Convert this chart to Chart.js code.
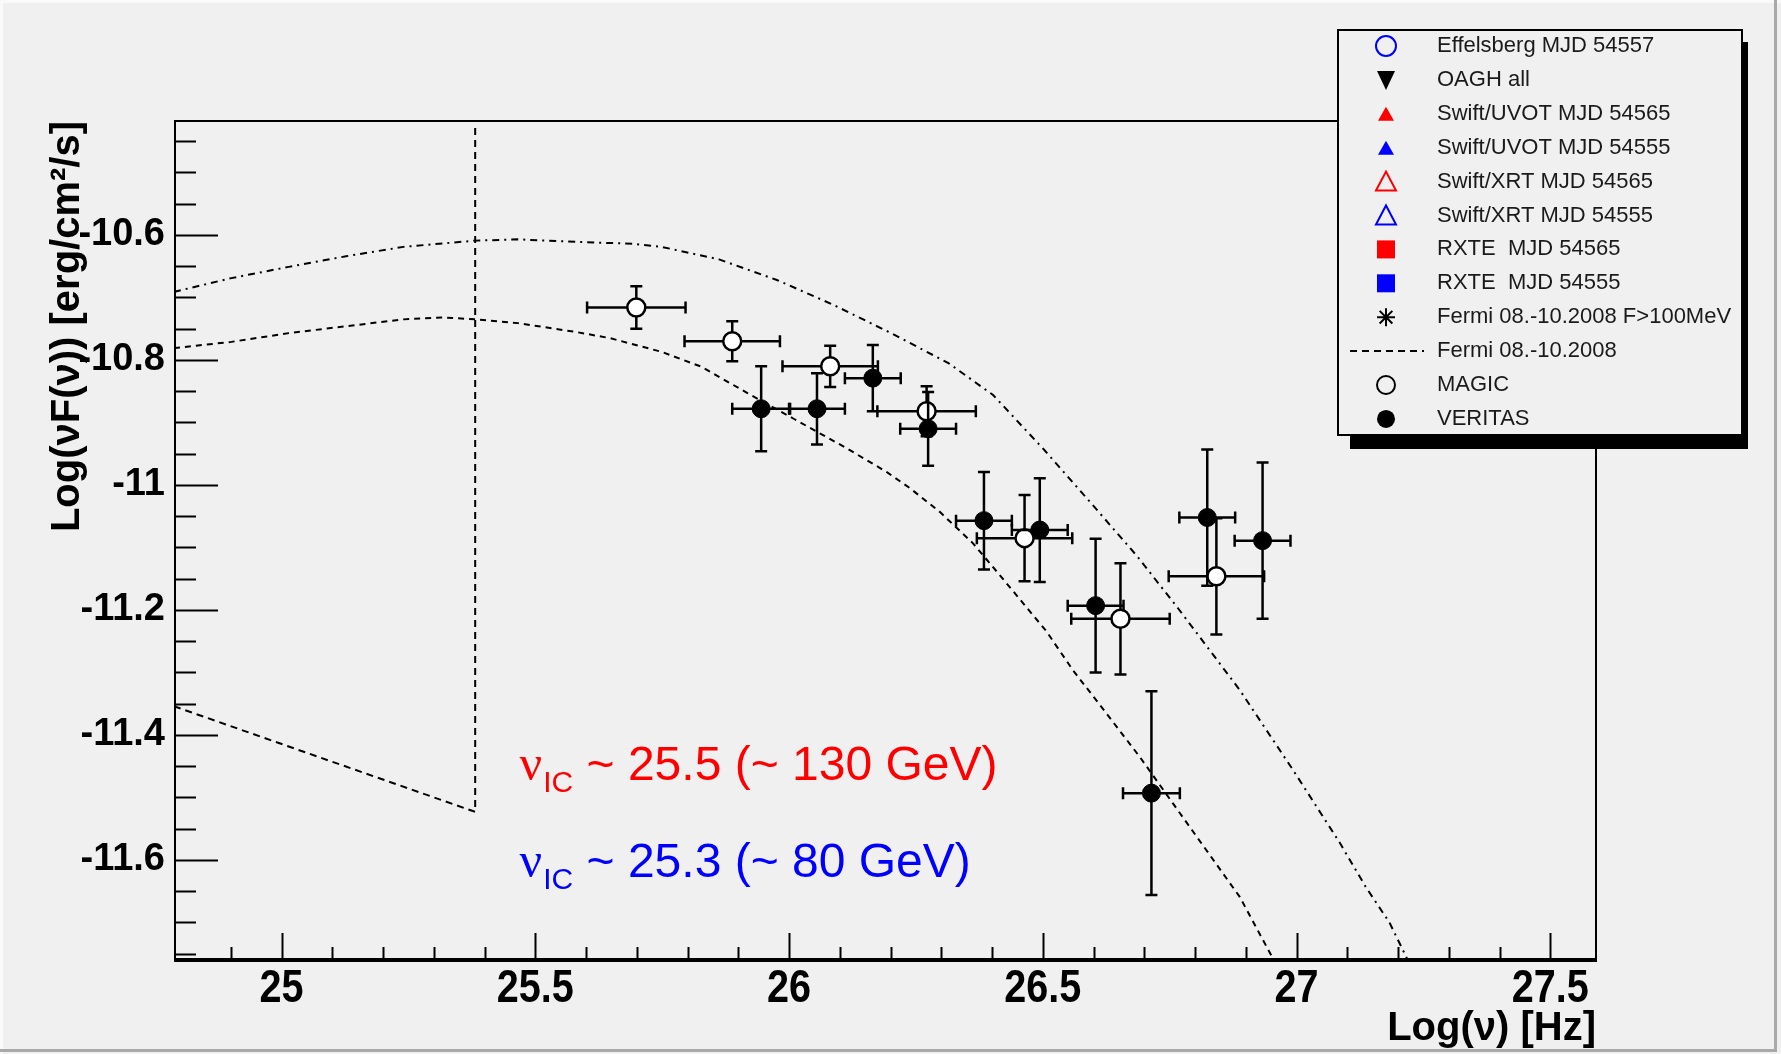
<!DOCTYPE html>
<html>
<head>
<meta charset="utf-8">
<script src="https://cdn.jsdelivr.net/npm/chart.js@4.4.1/dist/chart.umd.min.js"></script>
<style>
  body { margin: 0; background: #f0f0f0; }
  canvas { display: block; }
</style>
</head>
<body>
<canvas id="sedChart" width="1781" height="1054"></canvas>
<script>
// MAGIC (open circles)
const magicX    = [25.699, 25.888, 26.081, 26.271, 26.464, 26.653, 26.842];
const magicY    = [-10.716, -10.770, -10.810, -10.882, -11.085, -11.214, -11.146];
const magicXErr = [0.097, 0.094, 0.094, 0.097, 0.094, 0.097, 0.094];
const magicYErr = [0.034, 0.032, 0.033, 0.040, 0.069, 0.089, 0.093];

// VERITAS (filled circles)
const veritasX    = [25.945, 26.055, 26.165, 26.274, 26.384, 26.494, 26.604, 26.714, 26.824, 26.933];
const veritasY    = [-10.878, -10.878, -10.829, -10.910, -11.057, -11.072, -11.193, -11.493, -11.052, -11.089];
const veritasXErr = [0.057, 0.055, 0.055, 0.055, 0.055, 0.055, 0.055, 0.056, 0.055, 0.055];
const veritasYErr = [0.068, 0.057, 0.053, 0.059, 0.078, 0.083, 0.107, 0.163, 0.109, 0.125];

// model curves
const lowerX = [24.788, 24.901, 25.014, 25.127, 25.240, 25.319, 25.3815, 25.466, 25.579, 25.647, 25.749, 25.828,
                25.918, 26.009, 26.113, 26.192, 26.238, 26.297, 26.362, 26.415, 26.461, 26.507, 26.559, 26.625,
                26.691, 26.756, 26.822, 26.888, 26.955];
const lowerY = [-10.781, -10.771, -10.757, -10.746, -10.735, -10.732, -10.735, -10.741, -10.755, -10.765, -10.787, -10.811,
                -10.853, -10.894, -10.941, -10.979, -11.005, -11.043, -11.093, -11.144, -11.189, -11.234, -11.296, -11.365,
                -11.435, -11.509, -11.584, -11.659, -11.760];
const upperX = [24.788, 24.901, 25.014, 25.127, 25.240, 25.3815, 25.466, 25.579, 25.692, 25.749, 25.862, 25.976,
                26.088, 26.201, 26.314, 26.402, 26.503, 26.595, 26.687, 26.769, 26.888, 26.993, 27.084, 27.137,
                27.183, 27.219];
const upperY = [-10.691, -10.669, -10.651, -10.634, -10.619, -10.609, -10.607, -10.611, -10.614, -10.619, -10.639, -10.672,
                -10.712, -10.757, -10.805, -10.856, -10.944, -11.029, -11.115, -11.200, -11.328, -11.456, -11.571, -11.644,
                -11.700, -11.760];
// Fermi butterfly edge
const fermiX = [24.788, 25.3815, 25.3815];
const fermiY = [-11.354, -11.523, -10.427];

// axes
const xMin = 24.79, xMax = 27.59;
const yMin = -11.76, yMax = -10.4176;
const xTicks = [25, 25.5, 26, 26.5, 27, 27.5];
const yTicks = [-10.6, -10.8, -11, -11.2, -11.4, -11.6];

// legend
const legendLabels = ['Effelsberg MJD 54557', 'OAGH all', 'Swift/UVOT MJD 54565', 'Swift/UVOT MJD 54555',
  'Swift/XRT MJD 54565', 'Swift/XRT MJD 54555', 'RXTE  MJD 54565', 'RXTE  MJD 54555',
  'Fermi 08.-10.2008 F>100MeV', 'Fermi 08.-10.2008', 'MAGIC', 'VERITAS'];
const legendMarkers = ['openCircle', 'downTri', 'upTri', 'upTri', 'openUpTri', 'openUpTri',
  'square', 'square', 'star', 'dash', 'openCircle', 'circle'];
const legendColors = ['#0000ff', '#000000', '#ff0000', '#0000ff', '#ff0000', '#0000ff',
  '#ff0000', '#0000ff', '#000000', '#000000', '#000000', '#000000'];

// annotations
const annotText = ['~ 25.5 (~ 130 GeV)', '~ 25.3 (~ 80 GeV)'];
const annotColors = ['#ff0000', '#0000ff'];
const annotX = 25.469;
const annotY = [-11.472, -11.627];

const toPoints = (xs, ys) => xs.map((x, i) => ({ x: x, y: ys[i] }));
const fmt = v => String(parseFloat(v.toFixed(1)));

const errorBars = {
  id: 'errorBars',
  beforeDatasetDraw(chart, args) {
    const ds = chart.data.datasets[args.index];
    if (!ds.errX) return;
    const ctx = chart.ctx, sx = chart.scales.x, sy = chart.scales.y;
    const cap = 6;
    ctx.save();
    ctx.strokeStyle = '#000';
    ctx.lineWidth = 2.5;
    ds.data.forEach((p, i) => {
      const x0 = sx.getPixelForValue(p.x - ds.errX[i]);
      const x1 = sx.getPixelForValue(p.x + ds.errX[i]);
      const y0 = sy.getPixelForValue(p.y - ds.errY[i]);
      const y1 = sy.getPixelForValue(p.y + ds.errY[i]);
      const cx = sx.getPixelForValue(p.x), cy = sy.getPixelForValue(p.y);
      ctx.beginPath();
      ctx.moveTo(x0, cy); ctx.lineTo(x1, cy);
      ctx.moveTo(x0, cy - cap); ctx.lineTo(x0, cy + cap);
      ctx.moveTo(x1, cy - cap); ctx.lineTo(x1, cy + cap);
      ctx.moveTo(cx, y0); ctx.lineTo(cx, y1);
      ctx.moveTo(cx - cap, y0); ctx.lineTo(cx + cap, y0);
      ctx.moveTo(cx - cap, y1); ctx.lineTo(cx + cap, y1);
      ctx.stroke();
    });
    ctx.restore();
  }
};

const rootFrame = {
  id: 'rootFrame',
  beforeDraw(chart) {
    const ctx = chart.ctx, w = chart.width, h = chart.height;
    ctx.save();
    ctx.fillStyle = '#f0f0f0';
    ctx.fillRect(0, 0, w, h);
    ctx.fillStyle = '#fafafa';
    ctx.fillRect(0, 0, w, 3);
    ctx.fillRect(0, 0, 3, h);
    ctx.fillStyle = '#a9a9a9';
    ctx.fillRect(w - 7, 0, 3, h - 4);
    ctx.fillRect(0, h - 5, w - 4, 3);
    ctx.restore();
  },
  afterDatasetsDraw(chart) {
    const ctx = chart.ctx, a = chart.chartArea, sx = chart.scales.x, sy = chart.scales.y;
    ctx.save();
    ctx.strokeStyle = '#000';
    // frame
    ctx.lineWidth = 2;
    ctx.strokeRect(a.left, a.top, a.right - a.left, a.bottom - a.top);
    ctx.lineWidth = 4;
    ctx.beginPath(); ctx.moveTo(a.left - 1, a.bottom); ctx.lineTo(a.right + 1, a.bottom); ctx.stroke();
    // ticks (inside the frame, ROOT style)
    ctx.lineWidth = 2;
    ctx.beginPath();
    for (let v = 24.9; v < xMax; v += 0.1) {
      const px = Math.round(sx.getPixelForValue(v)) + 0.5;
      const major = Math.abs(v * 2 - Math.round(v * 2)) < 1e-6;
      ctx.moveTo(px, a.bottom); ctx.lineTo(px, a.bottom - (major ? 27 : 13));
    }
    for (let v = -11.75; v < yMax; v += 0.05) {
      const py = Math.round(sy.getPixelForValue(v)) + 0.5;
      const major = Math.abs(v * 5 - Math.round(v * 5)) < 1e-6;
      ctx.moveTo(a.left, py); ctx.lineTo(a.left + (major ? 43 : 21), py);
    }
    ctx.stroke();
    // x tick labels, narrow bold
    ctx.fillStyle = '#000';
    ctx.font = 'bold 46px "Liberation Sans", sans-serif';
    ctx.textAlign = 'center';
    ctx.textBaseline = 'alphabetic';
    sx.ticks.forEach(t => {
      ctx.save();
      ctx.translate(sx.getPixelForValue(t.value), a.bottom + 42);
      ctx.scale(0.86, 1);
      ctx.fillText(fmt(t.value), 0, 0);
      ctx.restore();
    });
    // annotations
    const ax = sx.getPixelForValue(annotX);
    annotText.forEach((t, i) => {
      const by = sy.getPixelForValue(annotY[i]);
      ctx.fillStyle = annotColors[i];
      ctx.textAlign = 'left';
      ctx.font = '50px "Liberation Serif", serif';
      ctx.fillText('\u03bd', ax, by);
      let x = ax + ctx.measureText('\u03bd').width + 1;
      ctx.font = '30px "Liberation Sans", sans-serif';
      ctx.fillText('IC', x, by + 12);
      x += ctx.measureText('IC').width;
      ctx.font = '48px "Liberation Sans", sans-serif';
      ctx.fillText(' ' + t, x, by);
    });
    ctx.restore();
  },
  afterDraw(chart) {
    const ctx = chart.ctx;
    const l = 1338, t = 30, r = 1742, b = 435;
    ctx.save();
    ctx.fillStyle = '#000';
    ctx.fillRect(l + 12, t + 12, r - l - 6, b - t + 2);
    ctx.fillStyle = '#f0f0f0';
    ctx.fillRect(l, t, r - l, b - t);
    ctx.strokeStyle = '#000';
    ctx.lineWidth = 2;
    ctx.strokeRect(l, t, r - l, b - t);
    const mx = 1386, tx = 1437;
    ctx.font = '22px "Liberation Sans", sans-serif';
    ctx.textBaseline = 'middle';
    legendLabels.forEach((lab, i) => {
      const y = 46 + i * 33.9;
      const c = legendColors[i];
      ctx.fillStyle = c; ctx.strokeStyle = c; ctx.lineWidth = 2;
      ctx.setLineDash([]);
      ctx.beginPath();
      switch (legendMarkers[i]) {
        case 'openCircle':
          ctx.arc(mx, y, i === 0 ? 10 : 9, 0, Math.PI * 2); ctx.stroke(); break;
        case 'circle':
          ctx.arc(mx, y, 9, 0, Math.PI * 2); ctx.fill(); break;
        case 'downTri':
          ctx.moveTo(mx - 9, y - 9); ctx.lineTo(mx + 9, y - 9); ctx.lineTo(mx, y + 10); ctx.closePath(); ctx.fill(); break;
        case 'upTri':
          ctx.moveTo(mx - 8, y + 7); ctx.lineTo(mx + 8, y + 7); ctx.lineTo(mx, y - 7); ctx.closePath(); ctx.fill(); break;
        case 'openUpTri':
          ctx.moveTo(mx - 10, y + 9); ctx.lineTo(mx + 10, y + 9); ctx.lineTo(mx, y - 10); ctx.closePath(); ctx.stroke(); break;
        case 'square':
          ctx.fillRect(mx - 9, y - 9, 18, 18); break;
        case 'star':
          for (let k = 0; k < 4; k++) {
            const an = k * Math.PI / 4;
            ctx.moveTo(mx - 9 * Math.cos(an), y - 9 * Math.sin(an));
            ctx.lineTo(mx + 9 * Math.cos(an), y + 9 * Math.sin(an));
          }
          ctx.stroke(); break;
        case 'dash':
          ctx.setLineDash([7, 5]);
          ctx.moveTo(1350, y); ctx.lineTo(1424, y); ctx.stroke();
          ctx.setLineDash([]); break;
      }
      ctx.fillStyle = '#1a1a1a';
      ctx.fillText(lab, tx, y);
    });
    ctx.restore();
  }
};

const lineStyle = { showLine: true, pointRadius: 0, borderColor: '#000', borderWidth: 2, tension: 0, fill: false };

new Chart(document.getElementById('sedChart'), {
  type: 'scatter',
  data: {
    datasets: [
      { label: 'VERITAS', data: toPoints(veritasX, veritasY), errX: veritasXErr, errY: veritasYErr,
        pointRadius: 9, pointBackgroundColor: '#000', pointBorderColor: '#000', pointBorderWidth: 1, order: 1 },
      { label: 'MAGIC', data: toPoints(magicX, magicY), errX: magicXErr, errY: magicYErr,
        pointRadius: 9, pointBackgroundColor: '#ffffff', pointBorderColor: '#000', pointBorderWidth: 2.5, order: 2 },
      Object.assign({ label: 'model low', data: toPoints(lowerX, lowerY), borderDash: [6, 5], order: 3 }, lineStyle),
      Object.assign({ label: 'model high', data: toPoints(upperX, upperY), borderDash: [7, 5, 2, 5], order: 4 }, lineStyle),
      Object.assign({ label: 'Fermi', data: toPoints(fermiX, fermiY), borderDash: [7, 5], order: 5 }, lineStyle)
    ]
  },
  options: {
    responsive: false,
    devicePixelRatio: 1,
    animation: false,
    events: [],
    layout: { padding: { top: 121, right: 185, left: 0, bottom: 0 } },
    plugins: { legend: { display: false }, tooltip: { enabled: false } },
    scales: {
      x: {
        type: 'linear', min: xMin, max: xMax,
        afterBuildTicks: s => { s.ticks = xTicks.map(v => ({ value: v })); },
        afterFit: s => { s.height = 94; },
        grid: { display: false, drawTicks: false },
        border: { display: false },
        ticks: { display: false },
        title: {
          display: true, text: 'Log(\u03bd) [Hz]', align: 'end', color: '#000',
          font: { family: '"Liberation Sans", sans-serif', size: 40, weight: 'bold' },
          padding: { top: 0, bottom: 1 }
        }
      },
      y: {
        type: 'linear', min: yMin, max: yMax,
        afterBuildTicks: s => { s.ticks = yTicks.map(v => ({ value: v })); },
        afterFit: s => { s.width = 175; },
        grid: { display: false, drawTicks: false },
        border: { display: false },
        ticks: {
          autoSkip: false, padding: 10, color: '#000',
          font: { family: '"Liberation Sans", sans-serif', size: 38, weight: 'bold' },
          callback: v => fmt(v)
        },
        title: {
          display: true, text: 'Log(\u03bdF(\u03bd)) [erg/cm\u00b2/s]', align: 'end', color: '#000',
          font: { family: '"Liberation Sans", sans-serif', size: 40, weight: 'bold' },
          padding: { top: 44, bottom: 0 }
        }
      }
    }
  },
  plugins: [errorBars, rootFrame]
});
</script>
</body>
</html>
